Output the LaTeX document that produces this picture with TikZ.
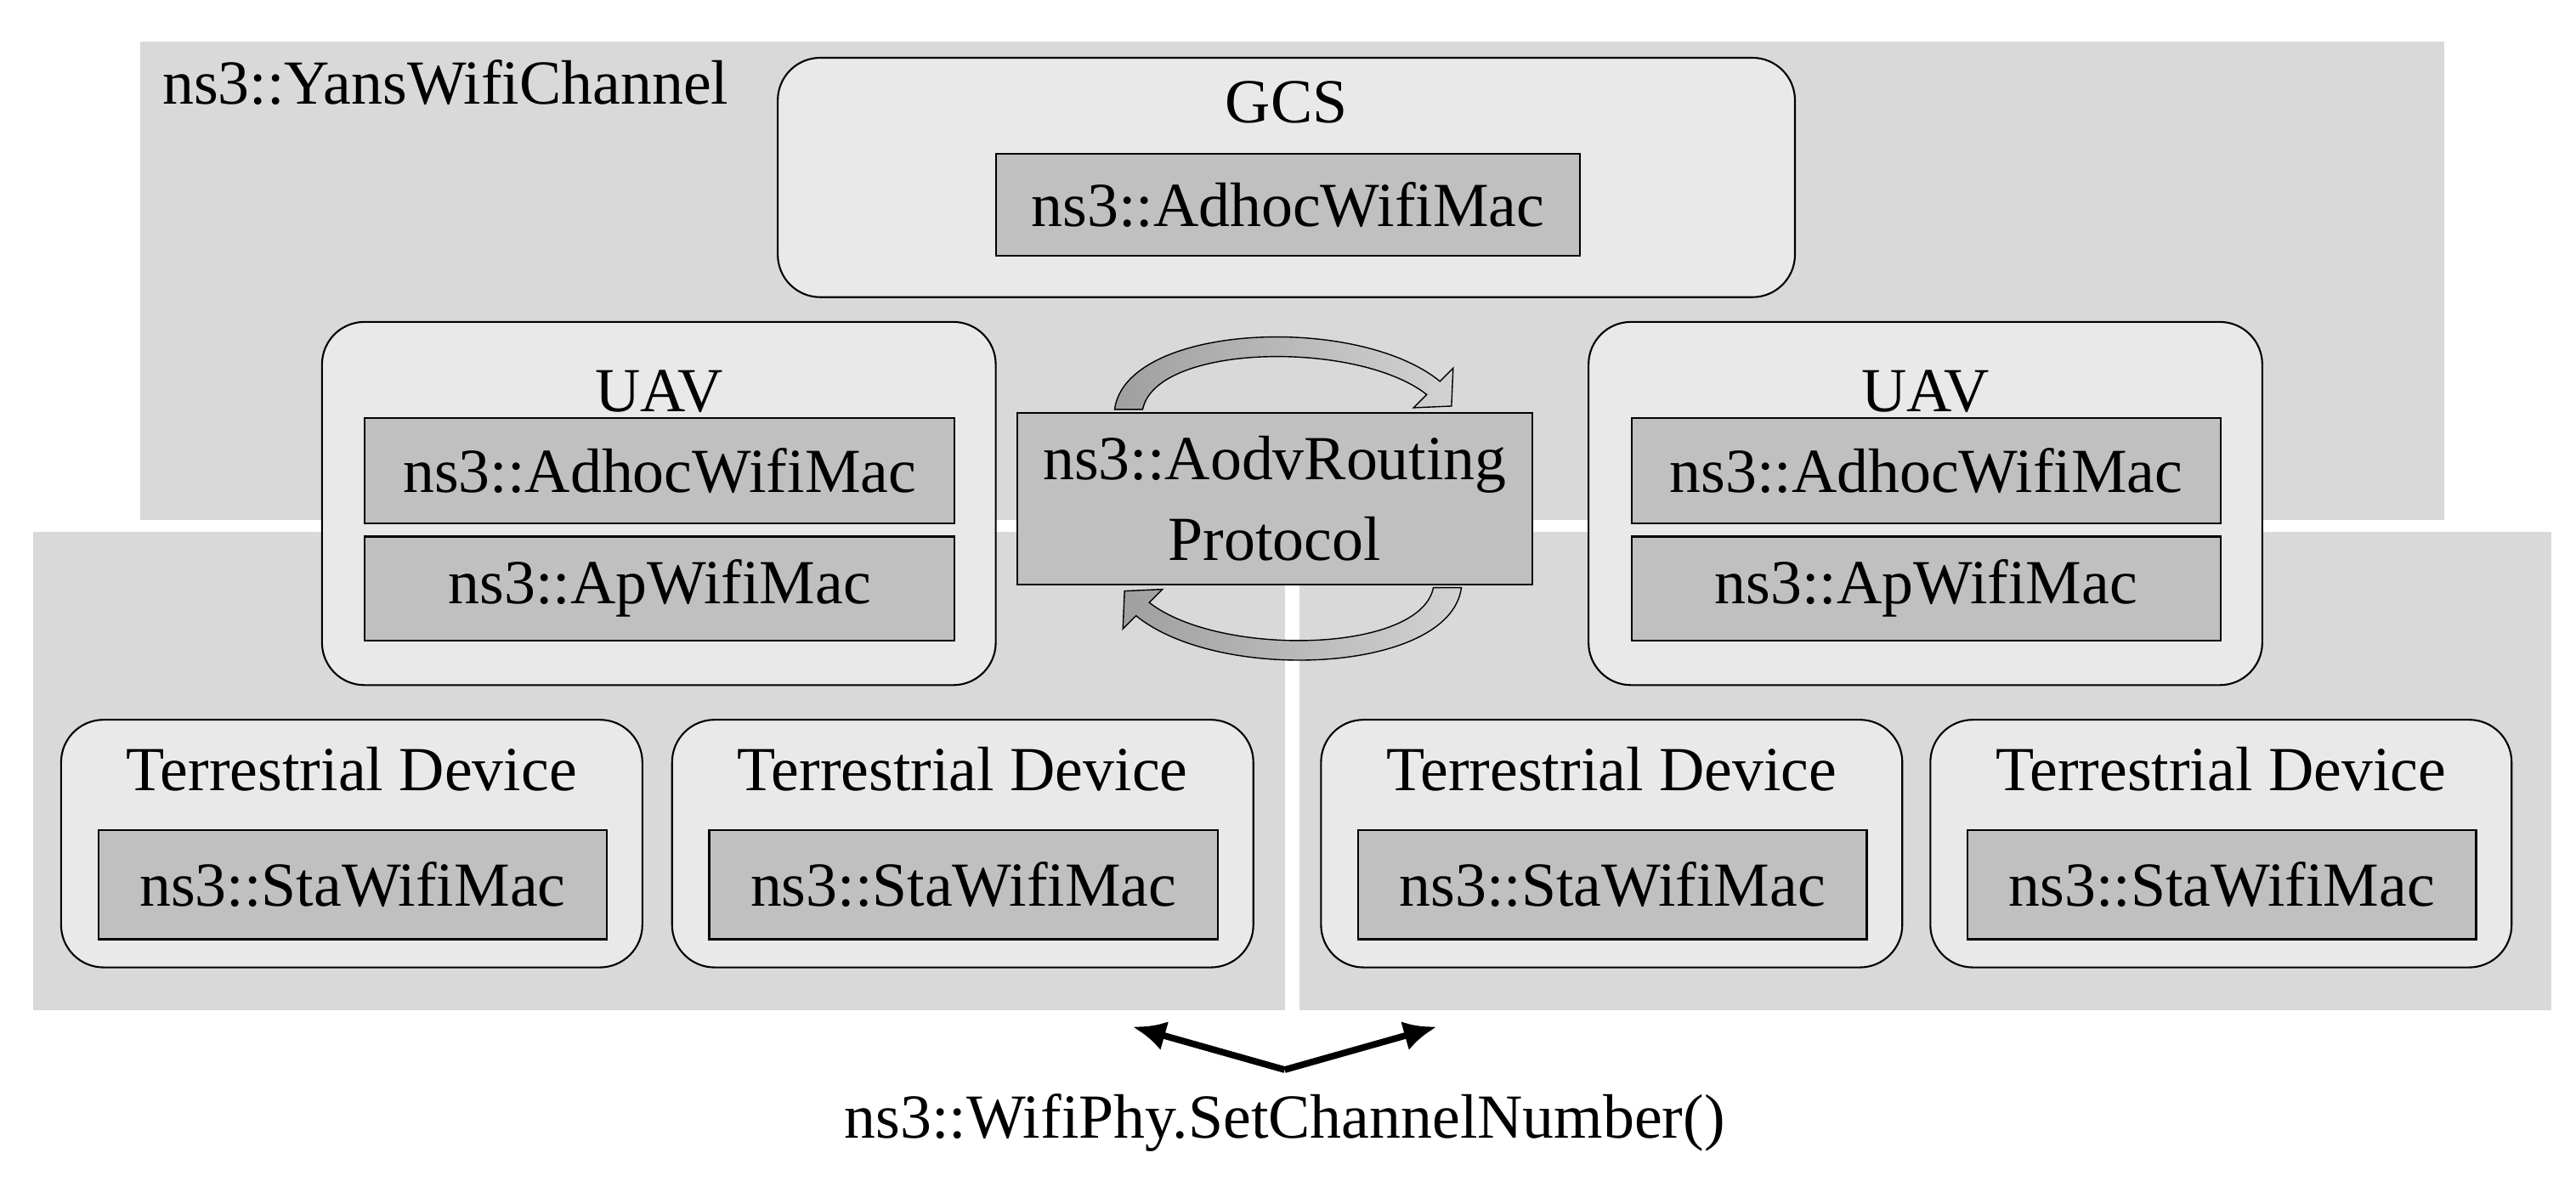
\documentclass[tikz,border=0pt]{standalone}
\usepackage{fontspec}
\setmainfont{Liberation Serif}
\usetikzlibrary{arrows.meta}
\definecolor{bgray}{HTML}{D9D9D9}
\definecolor{lgray}{HTML}{E9E9E9}
\definecolor{mgray}{HTML}{C0C0C0}
\begin{document}
\begin{tikzpicture}[x=0.01943cm,y=-0.01943cm,
  every node/.style={font=\fontsize{21}{25}\selectfont, inner sep=0pt},
  bg/.style 2 args={fill=bgray, draw=none, minimum width=#1*0.01943cm, minimum height=#2*0.01943cm},
  grp/.style 2 args={fill=lgray, draw=black, line width=0.6pt, rounded corners=0.5cm, minimum width=#1*0.01943cm, minimum height=#2*0.01943cm},
  mac/.style 2 args={fill=mgray, draw=black, line width=0.6pt, minimum width=#1*0.01943cm, minimum height=#2*0.01943cm},
  blk/.style={draw=black, line width=0.4pt, left color=gray!75, right color=gray!35}]
\useasboundingbox (0,0) rectangle (1560,714.9);
% channels
\node[bg={1395}{290}] (chtop) at (782.5,170) {};
\node[bg={758}{290}] (chl) at (399,467) {};
\node[bg={758}{290}] (chr) at (1166,467) {};
\node[anchor=west] (yans) at (98,50) {ns3::YansWifiChannel};
% GCS
\node[grp={616}{145}] (gcs) at (779,107.5) {};
\node (gcst) at (779,62) {GCS};
\node[mac={354}{62}] (gcsm) at (780,124) {ns3::AdhocWifiMac};
% UAVs
\foreach \n/\x in {uavl/399, uavr/1166}{
  \node[grp={408}{220}] (\n) at (\x,305) {};
  \node (\n t) at (\x,237) {UAV};
  \node[mac={357}{64}] (\n a) at (\x+0.5,285) {ns3::AdhocWifiMac};
  \node[mac={357}{63}] (\n b) at (\x+0.5,356.5) {ns3::ApWifiMac};
}
% routing protocol
\node[mac={312}{104}, align=center] (aodv) at (772,302) {ns3::AodvRouting\\[2pt]Protocol};
% terrestrial devices
\foreach \n/\x in {t1/213, t2/583, t3/976, t4/1345}{
  \node[grp={352}{150}] (\n) at (\x,511) {};
  \node (\n t) at (\x,466) {Terrestrial Device};
  \node[mac={308}{66}] (\n m) at (\x+0.5,536) {ns3::StaWifiMac};
}
% curved block arrows around the routing protocol
\foreach \r in {0,180}{
\begin{scope}[rotate around={\r:(780,302)}]
\path[blk] (675,248) .. controls (682,196) and (822,190) .. (872,231) -- (880,223)
  -- (879,246) -- (856,247) -- (864,239) .. controls (822,206) and (700,208) .. (692,248) -- cycle;
\end{scope}}
% channel number arrows
\coordinate (cn) at (778,648);
\coordinate (cl) at (686,622);
\coordinate (cr) at (870,622);
\draw[line width=2.2pt, -{Latex[length=11pt,width=10pt]}] (cn) -- (cl);
\draw[line width=2.2pt, -{Latex[length=11pt,width=10pt]}] (cn) -- (cr);
\node (phy) at (778,680) {ns3::WifiPhy.SetChannelNumber()};
\end{tikzpicture}
\end{document}
